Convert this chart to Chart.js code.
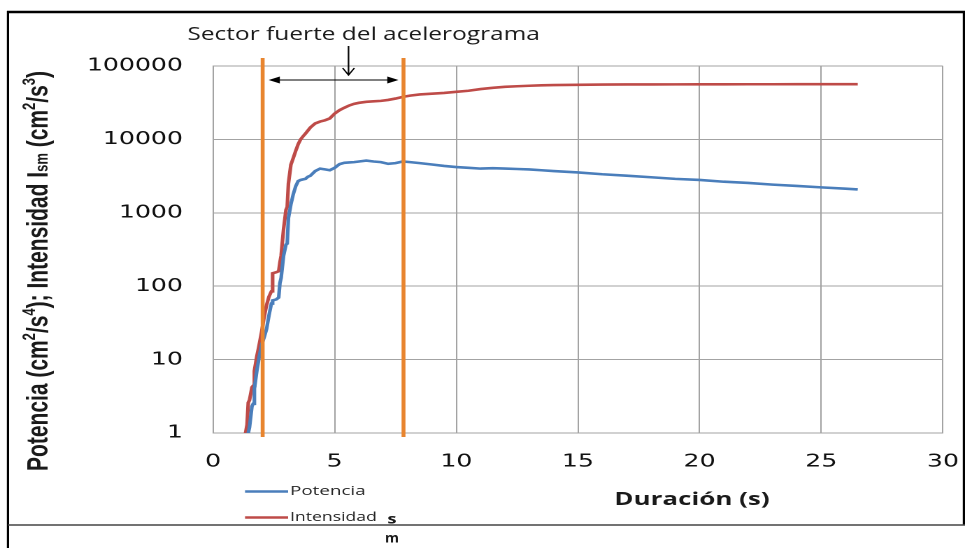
<!DOCTYPE html>
<html>
<head>
<meta charset="utf-8">
<script src="https://cdn.jsdelivr.net/npm/chart.js@4.4.1/dist/chart.umd.min.js"></script>
<style>
  html, body { margin: 0; padding: 0; background: #fff; overflow: hidden; }
  /* the figure is laid out narrow and widened horizontally */
  #wrap { width: 690px; height: 548px; transform: scaleX(1.39855); transform-origin: 0 0; }
  canvas { display: block; }
</style>
</head>
<body>
<div id="wrap"><canvas id="c" width="690" height="548"></canvas></div>
<script>
// Duración (s)
const tiempo = [
  1.3, 1.4, 1.45, 1.5, 1.6, 1.65, 1.7, 1.8, 1.9, 2.0, 2.1, 2.2, 2.3, 2.4, 2.45, 2.6, 2.7, 2.75, 2.8, 2.9, 3.0,
  3.05, 3.1, 3.2, 3.3, 3.4, 3.5, 3.6, 3.7, 3.8, 3.9, 4.0, 4.2, 4.4, 4.6, 4.8, 5.0, 5.2, 5.4, 5.6,
  5.8, 6.0, 6.3, 6.6, 6.9, 7.2, 7.5, 7.8, 8.1, 8.5, 9.0, 9.5, 10, 10.5, 11, 11.5, 12, 12.5,
  13, 13.5, 14, 15, 16, 17, 18, 19, 20, 21, 22, 23, 24, 25, 26, 26.5
];
// Potencia (cm2/s4)
const potencia = [
  0.5, 0.8, 1.0, 1.2, 2.3, 2.5, 4, 7, 11, 16, 20, 26, 40, 58, 64, 66, 70, 110, 130, 260, 370,
  380, 850, 1300, 1800, 2300, 2700, 2800, 2850, 2900, 3100, 3200, 3700, 4000, 3900, 3800, 4100, 4600, 4800, 4850,
  4900, 5000, 5150, 5000, 4900, 4650, 4750, 5000, 4900, 4750, 4550, 4350, 4200, 4100, 4000, 4050, 4000, 3950,
  3900, 3800, 3700, 3550, 3350, 3200, 3050, 2900, 2800, 2650, 2550, 2420, 2320, 2220, 2130, 2080
];
// Intensidad Ism (cm2/s3)
const intensidad = [
  0.85, 1.3, 2.6, 2.8, 4.2, 4.4, 7, 11, 16, 24, 38, 55, 72, 85, 150, 155, 160, 210, 260, 600, 1100,
  1200, 2500, 4500, 5600, 7000, 8600, 10000, 11000, 12000, 13200, 14500, 16500, 17500, 18200, 19300, 22500, 25000, 27000, 29000,
  30500, 31500, 32500, 33000, 33500, 34500, 36000, 38000, 39500, 41000, 42000, 43000, 44500, 46000, 48500, 50500, 52000, 53000,
  53800, 54500, 55000, 55500, 55800, 56000, 56100, 56200, 56300, 56300, 56400, 56400, 56500, 56500, 56500, 56500
];
const xTicks = [0, 5, 10, 15, 20, 25, 30];
const yTicks = [1, 10, 100, 1000, 10000, 100000];
// límites del sector fuerte (s)
const sectorInicio = 2.04;
const sectorFin = 7.83;
const flechaX = 5.57;

const AZUL = '#4a7ebb';
const ROJO = '#be4b48';
const NARANJA = '#e8852f';
const GRIS = '#a3a3a3';

// draws a string scaled along its direction to a given length
function fitText(ctx, text, x, y, width, align) {
  const w = ctx.measureText(text).width;
  const k = width / w;
  ctx.save();
  ctx.translate(x, y);
  ctx.scale(k, 1);
  const off = align === 'center' ? -w / 2 : (align === 'right' ? -w : 0);
  ctx.fillText(text, off, 0);
  ctx.restore();
}

// mixed-size text runs (superscripts, small letters) fitted to a length
function drawRuns(ctx, runs, base, family, cx, cy, length) {
  let total = 0;
  const sizes = runs.map(r => {
    ctx.font = `bold ${Math.round(base * (r.s || 1))}px ${family}`;
    const w = ctx.measureText(r.t).width;
    total += w;
    return w;
  });
  const k = length / total;
  ctx.save();
  ctx.translate(cx, cy);
  ctx.scale(k, 1);
  let x = -total / 2;
  runs.forEach((r, i) => {
    ctx.font = `bold ${Math.round(base * (r.s || 1))}px ${family}`;
    ctx.fillText(r.t, x, (r.dy || 0) * base);
    x += sizes[i];
  });
  ctx.restore();
}

const decoracion = {
  id: 'decoracion',
  afterDatasetsDraw(chart) {
    const { ctx, chartArea: a, scales: { x, y } } = chart;
    const x1 = x.getPixelForValue(sectorInicio);
    const x2 = x.getPixelForValue(sectorFin);
    ctx.save();

    // límites del sector fuerte
    ctx.strokeStyle = NARANJA;
    ctx.lineWidth = 2.8;
    [x1, x2].forEach(px => {
      ctx.beginPath();
      ctx.moveTo(px, a.top - 8);
      ctx.lineTo(px, a.bottom + 4);
      ctx.stroke();
    });

    // flecha doble entre los límites
    const ya = a.top + 14;
    const xa = x1 + 4.3, xb = x2 - 3.6;
    ctx.strokeStyle = '#000';
    ctx.fillStyle = '#000';
    ctx.lineWidth = 1.1;
    ctx.beginPath();
    ctx.moveTo(xa + 4, ya);
    ctx.lineTo(xb - 4, ya);
    ctx.stroke();
    ctx.beginPath();
    ctx.moveTo(xa, ya); ctx.lineTo(xa + 8, ya - 3.5); ctx.lineTo(xa + 8, ya + 3.5); ctx.closePath();
    ctx.fill();
    ctx.beginPath();
    ctx.moveTo(xb, ya); ctx.lineTo(xb - 8, ya - 3.5); ctx.lineTo(xb - 8, ya + 3.5); ctx.closePath();
    ctx.fill();

    // flecha desde el rótulo
    const xf = x.getPixelForValue(flechaX);
    ctx.beginPath();
    ctx.moveTo(xf, 46);
    ctx.lineTo(xf, 75);
    ctx.moveTo(xf - 4.2, 68);
    ctx.lineTo(xf, 75);
    ctx.lineTo(xf + 4.2, 68);
    ctx.stroke();

    ctx.restore();
  },
  afterDraw(chart) {
    const { ctx } = chart;
    ctx.save();

    // marco
    ctx.strokeStyle = '#000';
    ctx.lineWidth = 2.4;
    ctx.beginPath(); ctx.moveTo(5, 12); ctx.lineTo(690, 12); ctx.stroke();
    ctx.lineWidth = 1.6;
    ctx.beginPath(); ctx.moveTo(5.7, 11); ctx.lineTo(5.7, 548); ctx.stroke();
    ctx.beginPath(); ctx.moveTo(689.2, 11); ctx.lineTo(689.2, 525); ctx.stroke();
    ctx.strokeStyle = '#444';
    ctx.lineWidth = 1.5;
    ctx.beginPath(); ctx.moveTo(5.7, 525); ctx.lineTo(690, 525); ctx.stroke();

    ctx.fillStyle = '#1a1a1a';
    ctx.textBaseline = 'alphabetic';

    // rótulo del sector
    ctx.font = '18px "Open Sans", sans-serif';
    fitText(ctx, 'Sector fuerte del acelerograma', 260, 40, 252, 'center');

    // título del eje x
    ctx.font = 'bold 18px "Open Sans", sans-serif';
    fitText(ctx, 'Duración (s)', 494.8, 505, 111, 'center');

    // título del eje y
    ctx.save();
    ctx.translate(34, 271);
    ctx.rotate(-Math.PI / 2);
    drawRuns(ctx, [
      { t: 'Potencia (cm' }, { t: '2', s: 0.62, dy: -0.42 }, { t: '/s' }, { t: '4', s: 0.62, dy: -0.42 },
      { t: '); Intensidad I' }, { t: 'sm', s: 0.62 },
      { t: ' (cm' }, { t: '2', s: 0.62, dy: -0.42 }, { t: '/s' }, { t: '3', s: 0.62, dy: -0.42 }, { t: ')' }
    ], 21, '"Liberation Sans Narrow", "Liberation Sans", sans-serif', 0, 0, 400);
    ctx.restore();

    // leyenda
    const items = [
      { ds: chart.data.datasets[0], y: 491.5, w: 54 },
      { ds: chart.data.datasets[1], y: 517.5, w: 62 }
    ];
    items.forEach(it => {
      ctx.strokeStyle = it.ds.borderColor;
      ctx.lineWidth = 2.4;
      ctx.beginPath(); ctx.moveTo(175.2, it.y); ctx.lineTo(206, it.y); ctx.stroke();
      ctx.fillStyle = '#262626';
      ctx.font = '13px "Open Sans", sans-serif';
      ctx.textBaseline = 'middle';
      fitText(ctx, it.ds.label, 207.4, it.y, it.w, 'left');
    });

    ctx.fillStyle = '#1a1a1a';
    ctx.font = 'bold 13px "Open Sans", sans-serif';
    ctx.textBaseline = 'middle';
    fitText(ctx, 's', 280.3, 520, 6.5, 'center');
    fitText(ctx, 'm', 280.3, 539, 10, 'center');

    ctx.restore();
  }
};

const serie = vals => tiempo.map((t, i) => ({ x: t, y: vals[i] }));

new Chart(document.getElementById('c'), {
  type: 'line',
  data: {
    datasets: [
      { label: 'Potencia', data: serie(potencia), borderColor: AZUL, backgroundColor: AZUL,
        borderWidth: 2.6, pointRadius: 0, tension: 0, fill: false },
      { label: 'Intensidad', data: serie(intensidad), borderColor: ROJO, backgroundColor: ROJO,
        borderWidth: 2.6, pointRadius: 0, tension: 0, fill: false }
    ]
  },
  options: {
    responsive: false,
    animation: false,
    devicePixelRatio: 2,
    layout: { padding: { left: 0, right: 15.8, top: 66, bottom: 0 } },
    plugins: { legend: { display: false }, tooltip: { enabled: false } },
    scales: {
      x: {
        type: 'linear', min: 0, max: 30,
        afterBuildTicks: s => { s.ticks = xTicks.map(v => ({ value: v })); },
        afterFit: s => { s.height = 115; s.paddingLeft = 0; s.paddingRight = 0; },
        grid: { color: GRIS, lineWidth: 1, drawTicks: false },
        border: { color: GRIS, width: 1 },
        ticks: { color: '#111', padding: 18, maxRotation: 0,
                 font: { family: '"DejaVu Sans", sans-serif', size: 18 } }
      },
      y: {
        type: 'logarithmic', min: 1, max: 100000,
        afterBuildTicks: s => { s.ticks = yTicks.map(v => ({ value: v })); },
        afterFit: s => { s.width = 152.3; s.paddingTop = 0; s.paddingBottom = 0; },
        grid: { color: GRIS, lineWidth: 1, drawTicks: false },
        border: { color: GRIS, width: 1 },
        ticks: { color: '#111', padding: 21.5, callback: v => String(v),
                 font: { family: '"DejaVu Sans", sans-serif', size: 18 } }
      }
    }
  },
  plugins: [decoracion]
});
</script>
</body>
</html>
